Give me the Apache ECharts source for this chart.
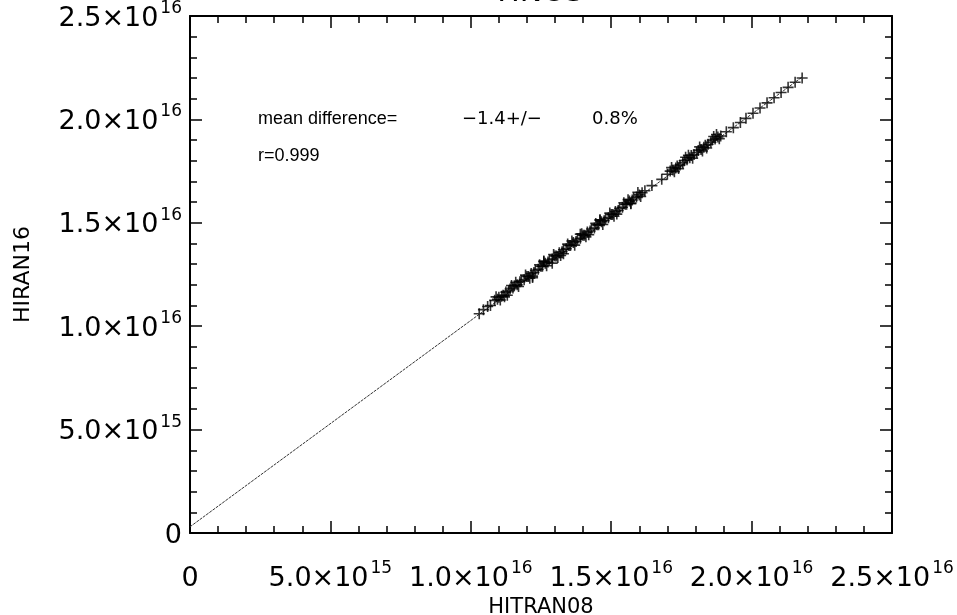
<!DOCTYPE html>
<html>
<head>
<meta charset="utf-8">
<script src="https://cdn.jsdelivr.net/npm/echarts@6/dist/echarts.min.js"></script>
<style>
	html, body { margin: 0; background: #fff; }
	#chart { width: 957px; height: 615px; }
</style>
</head>
<body>
<div id="chart"></div>
<script>
// column values (molecules/cm2)
const hitran08 = [
	10.3e15, 10.45e15, 10.6e15, 10.7e15, 10.85e15, 10.95e15, 11.0e15, 11.1e15, 11.15e15, 11.25e15,
	11.35e15, 11.4e15, 11.5e15, 11.55e15, 11.65e15, 11.75e15, 11.8e15, 11.9e15, 12.0e15, 12.05e15,
	12.15e15, 12.25e15, 12.3e15, 12.4e15, 12.5e15, 12.55e15, 12.65e15, 12.75e15, 12.8e15, 12.9e15,
	13.0e15, 13.05e15, 13.15e15, 13.25e15, 13.3e15, 13.4e15, 13.5e15, 13.55e15, 13.65e15, 13.75e15,
	13.8e15, 13.9e15, 14.0e15, 14.05e15, 14.15e15, 14.25e15, 14.3e15, 14.4e15, 14.5e15, 14.55e15,
	14.65e15, 14.75e15, 14.8e15, 14.9e15, 15.0e15, 15.05e15, 15.15e15, 15.25e15, 15.3e15, 15.4e15,
	15.5e15, 15.55e15, 15.65e15, 15.75e15, 15.8e15, 15.9e15, 16.0e15, 16.1e15, 16.2e15, 16.45e15,
	16.8e15, 17.0e15, 17.1e15, 17.2e15, 17.3e15, 17.35e15, 17.45e15, 17.55e15, 17.6e15, 17.7e15,
	17.8e15, 17.85e15, 17.95e15, 18.05e15, 18.1e15, 18.2e15, 18.3e15, 18.35e15, 18.45e15, 18.55e15,
	18.6e15, 18.7e15, 18.8e15, 18.9e15, 19.1e15, 19.35e15, 19.6e15, 19.8e15, 20.05e15, 20.3e15,
	20.55e15, 20.8e15, 21.05e15, 21.3e15, 21.55e15, 21.8e15,
	12.2e15, 12.6e15, 13.3e15, 14.6e15, 11.3e15, 15.7e15, 13.9e15, 12.9e15,
	10.9e15, 11.2e15, 11.45e15, 11.7e15, 11.95e15, 12.2e15, 12.45e15, 12.7e15, 12.95e15, 13.2e15,
	13.45e15, 13.7e15, 13.95e15, 14.2e15, 14.45e15, 14.7e15, 14.95e15, 15.2e15, 15.45e15, 15.7e15,
	15.95e15, 17.15e15, 17.4e15, 17.65e15, 17.9e15, 18.15e15, 18.4e15, 18.65e15, 18.85e15, 11.05e15,
	11.6e15, 12.1e15, 12.6e15, 13.1e15, 13.6e15, 14.1e15, 14.6e15, 15.1e15, 15.6e15, 16.05e15,
	17.25e15, 17.75e15, 18.25e15, 18.75e15
];
const hiran16 = [
	10.6e15, 10.8e15, 10.95e15, 11.0e15, 11.25e15, 11.3e15, 11.4e15, 11.45e15, 11.5e15, 11.65e15,
	11.7e15, 11.8e15, 11.85e15, 11.95e15, 12.0e15, 12.15e15, 12.2e15, 12.25e15, 12.4e15, 12.4e15,
	12.55e15, 12.6e15, 12.7e15, 12.75e15, 12.9e15, 12.9e15, 13.05e15, 13.1e15, 13.2e15, 13.25e15,
	13.4e15, 13.4e15, 13.55e15, 13.6e15, 13.7e15, 13.75e15, 13.9e15, 13.9e15, 14.05e15, 14.1e15,
	14.2e15, 14.25e15, 14.4e15, 14.4e15, 14.55e15, 14.6e15, 14.7e15, 14.75e15, 14.9e15, 14.9e15,
	15.05e15, 15.1e15, 15.2e15, 15.25e15, 15.4e15, 15.4e15, 15.55e15, 15.6e15, 15.7e15, 15.75e15,
	15.9e15, 15.9e15, 16.05e15, 16.1e15, 16.2e15, 16.25e15, 16.35e15, 16.45e15, 16.55e15, 16.8e15,
	17.1e15, 17.35e15, 17.5e15, 17.55e15, 17.65e15, 17.75e15, 17.8e15, 17.9e15, 18.0e15, 18.05e15,
	18.15e15, 18.25e15, 18.3e15, 18.4e15, 18.5e15, 18.55e15, 18.65e15, 18.75e15, 18.8e15, 18.9e15,
	19.0e15, 19.05e15, 19.15e15, 19.2e15, 19.4e15, 19.6e15, 19.85e15, 20.05e15, 20.3e15, 20.55e15,
	20.8e15, 21.05e15, 21.3e15, 21.55e15, 21.8e15, 22.0e15,
	12.35e15, 13.15e15, 13.5e15, 15.15e15, 11.5e15, 15.95e15, 14.45e15, 13.05e15,
	11.42e15, 11.42e15, 11.97e15, 11.92e15, 12.47e15, 12.42e15, 12.97e15, 12.92e15, 13.47e15, 13.42e15,
	13.97e15, 13.92e15, 14.47e15, 14.42e15, 14.97e15, 14.92e15, 15.47e15, 15.42e15, 15.97e15, 15.92e15,
	16.47e15, 17.67e15, 17.62e15, 18.17e15, 18.12e15, 18.67e15, 18.62e15, 19.17e15, 19.07e15, 11.27e15,
	12.12e15, 12.32e15, 13.12e15, 13.32e15, 14.12e15, 14.32e15, 15.12e15, 15.32e15, 16.12e15, 16.27e15,
	17.47e15, 18.27e15, 18.47e15, 19.27e15
];
// straight line drawn through the cloud, from its two ends
const lineX = [ 0, 21.8e15 ];
const lineY = [ 0.3e15, 22.05e15 ];

const titleText = 'HNO3';
const xName = 'HITRAN08';
const yName = 'HIRAN16';
const noteLabel = 'mean difference=';
const noteMean = '−1.4+/−';
const notePct = '0.8%';
const noteR = 'r=0.999';

const FONT = '"DejaVu Sans", "Liberation Sans", sans-serif';
const NOTE_FONT = '"Liberation Sans", sans-serif';
const PLUS = 'path://M4.7,0H6.3V11H4.7Z M0,4.7H11V6.3H0Z';

function sciLabel( value ) {
	if ( value === 0 ) {
		return '{b|0}';
	}
	const exp = Math.floor( Math.log10( value ) + 1e-9 );
	const mant = value / Math.pow( 10, exp );
	return `{b|${ mant.toFixed( 1 ) }×10}{s|${ exp }}`;
}

const labelRich = {
	b: { fontSize: 27, fontFamily: FONT, color: '#000', lineHeight: 32, verticalAlign: 'bottom' },
	s: { fontSize: 17, fontFamily: FONT, color: '#000', lineHeight: 32, verticalAlign: 'top', padding: [ 0, 0, 0, 2 ] }
};

function axisBase( extra ) {
	return Object.assign( {
		type: 'value',
		min: 0,
		max: 2.5e16,
		interval: 5e15,
		splitLine: { show: false },
		axisLine: { show: true, onZero: false, lineStyle: { color: '#000', width: 2 } },
		axisTick: { show: true, inside: true, length: 12, lineStyle: { color: '#000', width: 1.5 } },
		minorTick: { show: true, splitNumber: 5, length: 7, lineStyle: { color: '#000', width: 1.5 } }
	}, extra );
}

function noteText( text, x, y, font ) {
	return {
		type: 'text', x: x, y: y,
		style: { text: text, fontSize: 18, fontFamily: font || NOTE_FONT, fill: '#000', verticalAlign: 'middle' }
	};
}

const chart = echarts.init( document.getElementById( 'chart' ) );

chart.setOption( {
	animation: false,
	backgroundColor: '#fff',
	grid: { left: 190, right: 65, top: 16, bottom: 82, outerBoundsMode: 'none' },
	xAxis: [
		axisBase( {
			position: 'bottom',
			name: xName,
			nameLocation: 'middle',
			nameGap: 54,
			nameTextStyle: { fontSize: 21, fontFamily: FONT, color: '#000' },
			axisLabel: { margin: 27, formatter: sciLabel, rich: labelRich }
		} ),
		axisBase( { position: 'top', axisLabel: { show: false } } )
	],
	yAxis: [
		axisBase( {
			position: 'left',
			name: yName,
			nameLocation: 'middle',
			nameGap: 156,
			nameTextStyle: { fontSize: 22, fontFamily: FONT, color: '#000' },
			axisLabel: { margin: 8, formatter: sciLabel, rich: labelRich }
		} ),
		axisBase( { position: 'right', axisLabel: { show: false } } )
	],
	graphic: [
		{
			type: 'text', x: 541, y: 8,
			style: { text: titleText, fontSize: 30, fontFamily: FONT, fill: '#000', align: 'center', verticalAlign: 'bottom' }
		},
		noteText( noteLabel, 258, 119 ),
		noteText( noteMean, 462, 119, FONT ),
		noteText( notePct, 592, 119, FONT ),
		noteText( noteR, 258, 156 )
	],
	series: [
		{
			type: 'line',
			data: lineX.map( ( x, i ) => [ x, lineY[ i ] ] ),
			symbol: 'none',
			silent: true,
			lineStyle: { color: '#333', width: 1, type: [ 3, 1 ] },
			z: 1
		},
		{
			type: 'scatter',
			data: hitran08.map( ( x, i ) => [ x, hiran16[ i ] ] ),
			symbol: PLUS,
			symbolSize: 11,
			itemStyle: { color: '#000' },
			z: 2
		}
	]
} );
</script>
</body>
</html>
